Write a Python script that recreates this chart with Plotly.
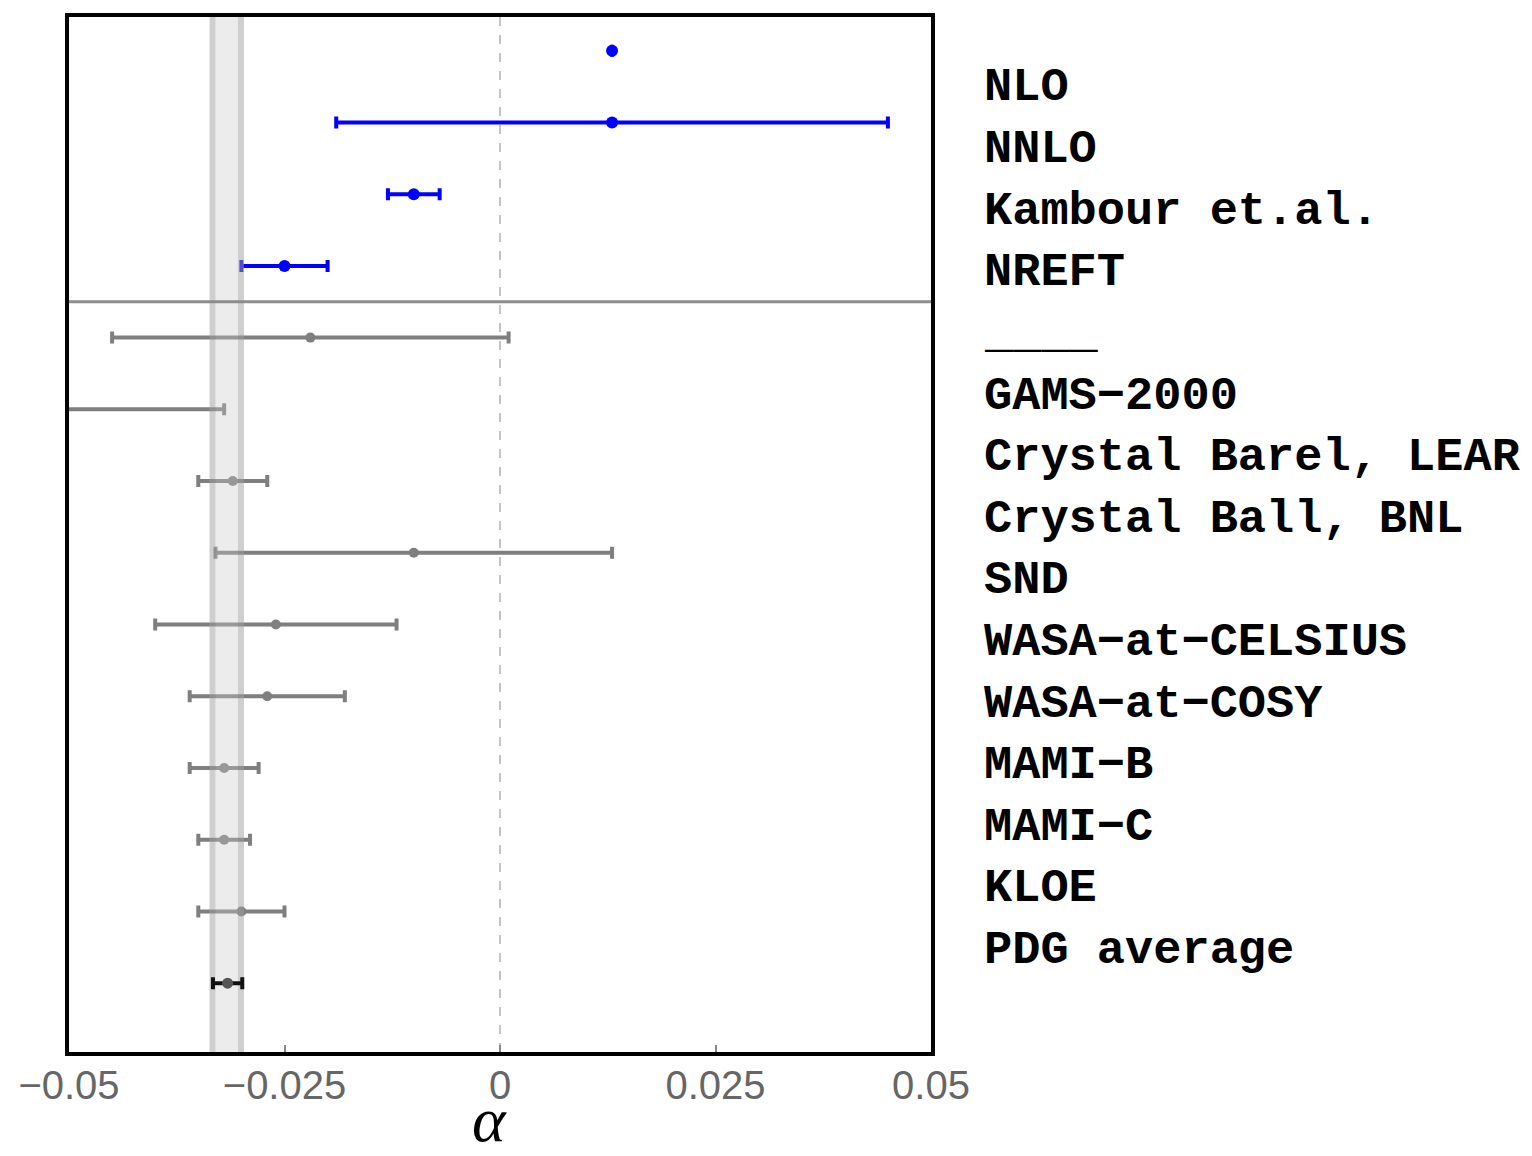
import plotly.graph_objects as go

# ---- data ----
theory_rows = [1, 2, 3, 4]
theory_alpha = [0.013, 0.013, -0.010, -0.025]
theory_err = [None, 0.032, 0.003, 0.005]

exp_rows = [5, 6, 7, 8, 9, 10, 11, 12, 13]
exp_alpha = [-0.022, -0.052, -0.031, -0.010, -0.026, -0.027, -0.032, -0.032, -0.030]
exp_err = [0.023, 0.020, 0.004, 0.023, 0.014, 0.009, 0.004, 0.003, 0.005]

pdg_rows = [14]
pdg_alpha = [-0.0316]
pdg_err = [0.0017]

band_low = -0.0337
band_high = -0.0297
separator_row = 4.5

labels = ["NLO", "NNLO", "Kambour et.al.", "NREFT", "____",
          "GAMS\u22122000", "Crystal Barel, LEAR", "Crystal Ball, BNL", "SND",
          "WASA\u2212at\u2212CELSIUS", "WASA\u2212at\u2212COSY", "MAMI\u2212B",
          "MAMI\u2212C", "KLOE", "PDG average"]

x_ticks = [-0.05, -0.025, 0, 0.025, 0.05]
x_tick_text = ["\u22120.05", "\u22120.025", "0", "0.025", "0.05"]

y_range = [14.96, 0.53]

# ---- figure ----
fig = go.Figure()

fig.add_trace(go.Scatter(
    x=theory_alpha, y=theory_rows, mode="markers",
    marker=dict(color="#0000ff", size=12),
    error_x=dict(type="data", array=theory_err, visible=True,
                 color="#0000ff", thickness=4, width=6),
    showlegend=False, cliponaxis=True))

fig.add_trace(go.Scatter(
    x=exp_alpha, y=exp_rows, mode="markers",
    marker=dict(color="#7f7f7f", size=10),
    error_x=dict(type="data", array=exp_err, visible=True,
                 color="#7f7f7f", thickness=4, width=6),
    showlegend=False, cliponaxis=True))

# translucent band drawn over the experimental bars
edge = 0.0007
band_parts = [
    (band_low, band_low + edge, "rgba(160,160,160,0.5)"),
    (band_low + edge, band_high - edge, "rgba(200,200,200,0.35)"),
    (band_high - edge, band_high, "rgba(160,160,160,0.5)"),
]
for x0, x1, col in band_parts:
    fig.add_trace(go.Scatter(
        x=[x0, x1, x1, x0, x0], y=[y_range[1], y_range[1], y_range[0], y_range[0], y_range[1]],
        mode="lines", fill="toself", fillcolor=col, line=dict(width=0),
        hoverinfo="skip", showlegend=False))

fig.add_trace(go.Scatter(
    x=pdg_alpha, y=pdg_rows, mode="markers",
    marker=dict(color="#555555", size=11),
    error_x=dict(type="data", array=pdg_err, visible=True,
                 color="#111111", thickness=4, width=6),
    showlegend=False, cliponaxis=True))

shapes = [
    dict(type="line", xref="x", yref="paper", x0=0, x1=0, y0=0, y1=1,
         line=dict(color="#c4c4c4", width=2, dash="dash"), layer="below"),
    dict(type="line", xref="paper", yref="y", x0=0, x1=1, y0=separator_row, y1=separator_row,
         line=dict(color="#8c8c8c", width=3), layer="above"),
]

# plot area in pixels
plot_left, plot_right, plot_top, plot_bottom = 69, 931, 17, 1052
annotations = []
for i, lab in enumerate(labels):
    ypix = 88 + i * 61.6
    annotations.append(dict(
        text=lab, xref="paper", yref="paper",
        x=(982 - plot_left) / (plot_right - plot_left),
        y=(plot_bottom - ypix) / (plot_bottom - plot_top),
        xanchor="left", yanchor="middle", showarrow=False,
        font=dict(family="Liberation Mono, DejaVu Sans Mono, monospace", size=47,
                  color="#000000", weight="bold")))

annotations.append(dict(
    text="\u03b1", xref="x", yref="paper", x=-0.0012,
    y=(plot_bottom - 1156) / (plot_bottom - plot_top),
    xanchor="center", yanchor="bottom", showarrow=False, borderpad=0,
    font=dict(family="Liberation Serif, DejaVu Serif, serif", size=64, color="#000000",
              style="italic")))

fig.update_layout(
    width=1532, height=1156,
    margin=dict(l=plot_left, r=1532 - plot_right, t=plot_top, b=1156 - plot_bottom),
    paper_bgcolor="white", plot_bgcolor="white",
    shapes=shapes, annotations=annotations,
    xaxis=dict(range=[-0.05, 0.05], tickvals=x_ticks, ticktext=x_tick_text,
               ticks="inside", ticklen=7, tickwidth=2, tickcolor="#888888",
               ticklabelstandoff=-5,
               showgrid=False, zeroline=False,
               showline=True, linecolor="black", linewidth=4, mirror=True,
               tickfont=dict(family="Liberation Sans, Arial, sans-serif", size=40, color="#666666")),
    yaxis=dict(range=y_range, showticklabels=False, ticks="", showgrid=False,
               zeroline=False, showline=True, linecolor="black", linewidth=4, mirror=True),
)

fig.write_html("out.html")
